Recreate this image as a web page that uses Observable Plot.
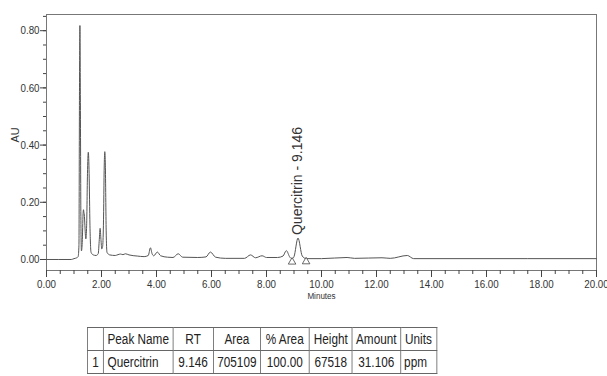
<!DOCTYPE html>
<html>
<head>
<meta charset="utf-8">
<script src="https://cdn.jsdelivr.net/npm/d3@7"></script>
<script src="https://cdn.jsdelivr.net/npm/@observablehq/plot@0.6"></script>
<style>
  html, body { margin: 0; padding: 0; background: #fff; }
  #wrap { position: relative; width: 607px; height: 376px; overflow: hidden; font-family: "Liberation Sans", Arial, sans-serif; }
  #chart { position: absolute; left: 0; top: 0; }
  #tbl { position: absolute; left: 87px; top: 327px; transform: scaleX(0.84); transform-origin: 0 0;
         border-collapse: collapse; table-layout: fixed; font-size: 14px; color: #222; }
  #tbl td { border: 1px solid #666; height: 22px; padding: 0 4px; text-align: center; white-space: nowrap; overflow: hidden; }
</style>
</head>
<body>
<div id="wrap">
  <div id="chart"></div>
  <table id="tbl"></table>
</div>
<script>
// Chromatogram trace (minutes, AU)
const times = [0.00, 0.90, 1.00, 1.10, 1.15, 1.18, 1.20, 1.215, 1.23, 1.25, 1.27, 1.30, 1.33, 1.345, 1.36, 1.38, 1.40, 1.43, 1.46, 1.49, 1.52, 1.55, 1.58, 1.62, 1.70, 1.80, 1.88, 1.92, 1.95, 1.98, 2.01, 2.04, 2.07, 2.10, 2.12, 2.14, 2.17, 2.20, 2.30, 2.50, 2.60, 2.69, 2.78, 2.87, 3.00, 3.30, 3.55, 3.70, 3.78, 3.84, 3.90, 4.03, 4.15, 4.40, 4.60, 4.79, 4.95, 5.50, 5.80, 5.96, 6.15, 6.50, 7.20, 7.42, 7.60, 7.84, 8.00, 8.40, 8.60, 8.72, 8.85, 8.93, 9.00, 9.146, 9.30, 9.44, 10.00, 10.93, 11.20, 12.20, 12.50, 13.12, 13.35, 15.00, 20.00];
const au = [0.000, 0.000, 0.003, 0.006, 0.010, 0.050, 0.600, 0.818, 0.600, 0.150, 0.030, 0.060, 0.160, 0.174, 0.165, 0.150, 0.110, 0.072, 0.120, 0.300, 0.375, 0.300, 0.120, 0.025, 0.016, 0.014, 0.020, 0.070, 0.109, 0.070, 0.037, 0.045, 0.120, 0.330, 0.377, 0.330, 0.100, 0.025, 0.016, 0.014, 0.017, 0.019, 0.017, 0.020, 0.016, 0.012, 0.010, 0.014, 0.041, 0.020, 0.013, 0.026, 0.013, 0.008, 0.007, 0.020, 0.008, 0.007, 0.009, 0.026, 0.008, 0.004, 0.004, 0.016, 0.006, 0.013, 0.007, 0.007, 0.012, 0.031, 0.008, 0.002, 0.010, 0.075, 0.012, 0.003, 0.003, 0.007, 0.004, 0.006, 0.004, 0.014, 0.003, 0.003, 0.003];

// Peak integration markers (start / end) and peak label
const markerTimes = [8.93, 9.44];
const markerAU = [0.002, 0.003];
const peakNames = ["Quercitrin"];
const peakRTs = [9.146];
const peakTops = [0.075];

// Axis ticks
const yMajor = [0, 0.2, 0.4, 0.6, 0.8];
const yMinor = d3.range(0, 0.851, 0.05);
const xMajor = d3.range(0, 20.01, 2);
const xMinor = d3.range(0, 20.01, 0.5);

// Results table
const tableHeader = ["", "Peak Name", "RT", "Area", "% Area", "Height", "Amount", "Units"];
const tableRow = ["1", "Quercitrin", "9.146", "705109", "100.00", "67518", "31.106", "ppm"];
const colWidths = [19.4, 80.6, 48.5, 53.9, 58.3, 51.2, 55.4, 43.1];

const trace = times.map((t, i) => ({t, v: au[i]}));
const markers = markerTimes.map((t, i) => ({t, v: markerAU[i]}));
const peaks = peakNames.map((n, i) => ({t: peakRTs[i], v: peakTops[i], label: `${n} - ${peakRTs[i].toFixed(3)}`}));

const chart = Plot.plot({
  width: 607,
  height: 310,
  marginTop: 14,
  marginBottom: 40,
  marginLeft: 46,
  marginRight: 11,
  x: {domain: [0, 20]},
  y: {domain: [-0.0385, 0.8566]},
  style: {fontFamily: "'Liberation Sans', Arial, sans-serif", fontSize: "11px", color: "#333", background: "white"},
  marks: [
    Plot.frame({stroke: "#777"}),
    Plot.axisY({ticks: yMinor, tickSize: 3, text: null, label: null, stroke: "#444"}),
    Plot.axisY({ticks: yMajor, tickFormat: d3.format(".2f"), tickSize: 6, tickPadding: 1, label: null, stroke: "#444", fontSize: 11.5}),
    Plot.axisX({ticks: xMinor, tickSize: 4, text: null, label: null, stroke: "#444"}),
    Plot.axisX({ticks: xMajor, tickFormat: d3.format(".2f"), tickSize: 7, tickPadding: 2, label: null, stroke: "#444", fontSize: 11.5}),
    Plot.text(["Minutes"], {frameAnchor: "bottom", dy: 28, fontSize: 9.5, fill: "#333"}),
    Plot.text(["AU"], {frameAnchor: "left", dx: -31, rotate: -90, fontSize: 11, fill: "#333"}),
    Plot.line(trace, {x: "t", y: "v", stroke: "#555", strokeWidth: 1, curve: "monotone-x"}),
    Plot.dot(markers, {x: "t", y: "v", dy: 3, symbol: "triangle", r: 2.8, fill: "white", stroke: "#444", strokeWidth: 0.8}),
    Plot.text(peaks, {x: "t", y: "v", text: "label", rotate: -90, textAnchor: "start", dy: -3, fontSize: 14, fill: "#333"})
  ]
});

document.getElementById("chart").appendChild(chart);

// Condense horizontal text (about its own anchor) to match the reference's narrow lettering
chart.querySelectorAll("text").forEach(t => {
  const tr = t.getAttribute("transform") || "";
  if (tr.includes("rotate")) return;
  const bb = t.getBBox();
  const anchor = getComputedStyle(t).textAnchor || t.getAttribute("text-anchor") || "start";
  const ax = anchor === "end" ? bb.x + bb.width : anchor === "middle" ? bb.x + bb.width / 2 : bb.x;
  t.setAttribute("transform", `${tr} translate(${ax},0) scale(0.85,1) translate(${-ax},0)`.trim());
});

// Build table
const tbl = document.getElementById("tbl");
const cg = document.createElement("colgroup");
colWidths.forEach(w => { const c = document.createElement("col"); c.style.width = w + "px"; cg.appendChild(c); });
tbl.appendChild(cg);
[tableHeader, tableRow].forEach((row, ri) => {
  const tr = document.createElement("tr");
  row.forEach((cell, ci) => {
    const td = document.createElement("td");
    td.textContent = cell;
    if (ci === 1 || (ri === 1 && ci === 7)) td.style.textAlign = "left";
    tr.appendChild(td);
  });
  tbl.appendChild(tr);
});
</script>
</body>
</html>
